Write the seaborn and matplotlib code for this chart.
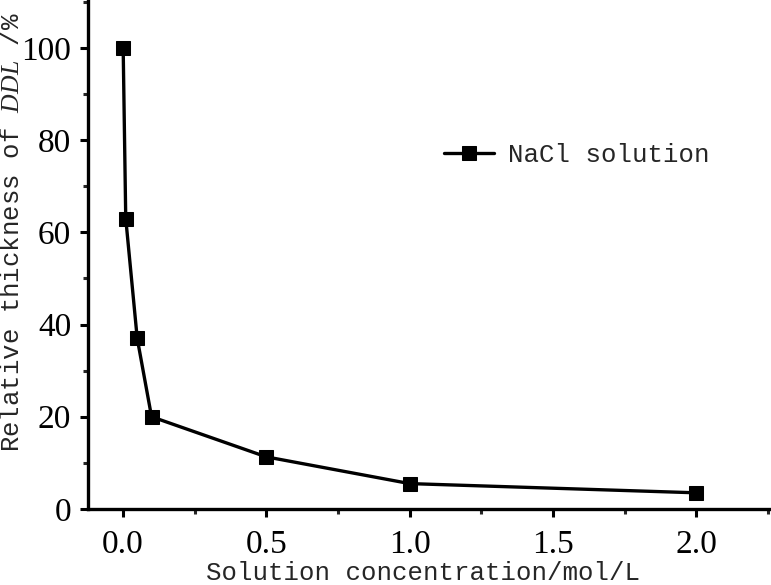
import pandas as pd
import matplotlib.pyplot as plt
import seaborn as sns
from matplotlib.ticker import MultipleLocator

# data
concentration = [0.001, 0.01, 0.05, 0.1, 0.5, 1.0, 2.0]
rel_thickness = [100, 63, 37, 20, 11.3, 5.5, 3.5]
series_name = "NaCl solution"
x_ticks = [0, 0.5, 1.0, 1.5, 2.0]
x_tick_labels = ["0.0", "0.5", "1.0", "1.5", "2.0"]

df = pd.DataFrame({"conc": concentration, "thick": rel_thickness, "series": series_name})

sns.set_style("ticks")
plt.rcParams['font.family'] = ['Liberation Mono', 'DejaVu Sans']
plt.rcParams['mathtext.fontset'] = 'custom'
plt.rcParams['mathtext.it'] = 'Liberation Serif:italic'

fig = plt.figure(figsize=(7.71, 5.85), dpi=100)
ax = fig.add_axes([0.114, 0.130, 0.886, 0.870])

sns.lineplot(data=df, x="conc", y="thick", hue="series", palette=["black"],
             marker="s", markersize=10, markeredgecolor="black", linewidth=2.4,
             ax=ax)

ax.set_xlim(-0.122, 2.26)
ax.set_ylim(0, 110.4)
ax.xaxis.set_minor_locator(MultipleLocator(0.25))
ax.yaxis.set_major_locator(MultipleLocator(20))
ax.yaxis.set_minor_locator(MultipleLocator(10))
ax.set_xticks(x_ticks)
ax.set_xticklabels(x_tick_labels)

for s in ["top", "right"]:
    ax.spines[s].set_visible(False)
for s in ["left", "bottom"]:
    ax.spines[s].set_linewidth(2.4)
    ax.spines[s].set_color("black")

ax.tick_params(which="major", direction="out", length=6, width=2.2, colors="black")
ax.tick_params(axis="x", which="major", pad=9)
ax.tick_params(axis="y", which="major", pad=6)
ax.tick_params(which="minor", direction="out", length=3.5, width=2.2)
for lab in ax.get_xticklabels() + ax.get_yticklabels():
    lab.set_family("Liberation Serif")
    lab.set_fontsize(24)

ax.set_xlabel("Solution concentration/mol/L", fontsize=18.5, labelpad=0)
ax.xaxis.set_label_coords(0.49, -0.102)
ax.xaxis.label.set_va("top")
ax.set_ylabel(r"Relative thickness of $DDL$ /%", fontsize=18.5)
ax.yaxis.set_label_coords(-0.094, 0.545)

leg = ax.legend(loc="center left", bbox_to_anchor=(0.487, 0.695), frameon=False,
                fontsize=18.5, handlelength=1.95, handletextpad=0.55)

plt.savefig("out.png", dpi=100)
